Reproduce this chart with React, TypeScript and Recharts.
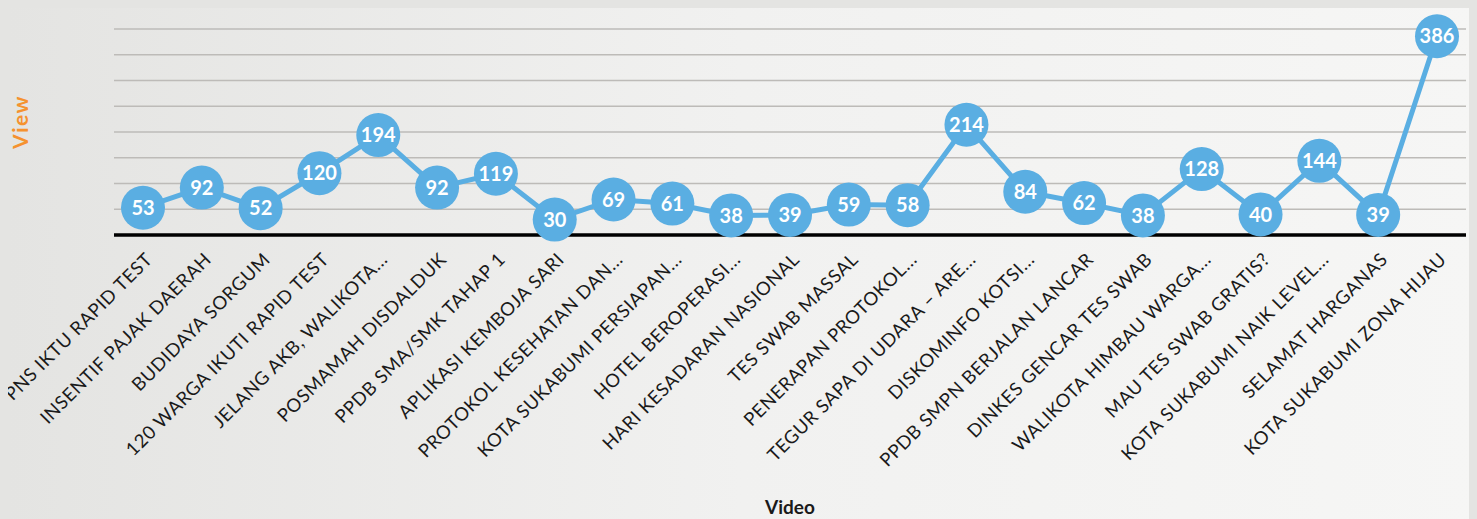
import { LineChart, Line, XAxis, YAxis, CartesianGrid, Label } from "recharts";

const videos = [
  "PNS IKTU RAPID TEST",
  "INSENTIF PAJAK DAERAH",
  "BUDIDAYA SORGUM",
  "120 WARGA IKUTI RAPID TEST",
  "JELANG AKB, WALIKOTA...",
  "POSMAMAH DISDALDUK",
  "PPDB SMA/SMK TAHAP 1",
  "APLIKASI KEMBOJA SARI",
  "PROTOKOL KESEHATAN DAN...",
  "KOTA SUKABUMI PERSIAPAN...",
  "HOTEL BEROPERASI...",
  "HARI KESADARAN NASIONAL",
  "TES SWAB MASSAL",
  "PENERAPAN PROTOKOL...",
  "TEGUR SAPA DI UDARA – ARE...",
  "DISKOMINFO KOTSI...",
  "PPDB SMPN BERJALAN LANCAR",
  "DINKES GENCAR TES SWAB",
  "WALIKOTA HIMBAU WARGA...",
  "MAU TES SWAB GRATIS?",
  "KOTA SUKABUMI NAIK LEVEL...",
  "SELAMAT HARGANAS",
  "KOTA SUKABUMI ZONA HIJAU",
];

const views = [53, 92, 52, 120, 194, 92, 119, 30, 69, 61, 38, 39, 59, 58, 214, 84, 62, 38, 128, 40, 144, 39, 386];

const yTicks = [0, 50, 100, 150, 200, 250, 300, 350, 400];

const data = videos.map((name, i) => ({ name, view: views[i] }));

const BLUE = "#5aaee2";
const FONT = "Lato, 'Open Sans', sans-serif";

function VideoTick({ x, y, payload }: any) {
  return (
    <g transform={`translate(${x + 6},${y + 13})`}>
      <text
        transform="rotate(-45)"
        textAnchor="end"
        dy="0.35em"
        fontSize={18.5}
        letterSpacing={0.6}
        fontFamily={FONT}
        fill="#1a1a1a"
      >
        {payload.value}
      </text>
    </g>
  );
}

// y ticks are only needed for the grid lines
function NoTick() {
  return <g />;
}

function ViewLabel({ viewBox }: any) {
  const cx = 13;
  const cy = viewBox.y + viewBox.height / 2 - 10;
  return (
    <text
      transform={`translate(${cx},${cy}) rotate(-90)`}
      textAnchor="middle"
      dy="0.35em"
      fontSize={21}
      letterSpacing={1.5}
      fontWeight="bold"
      fontFamily={FONT}
      fill="#f5922f"
    >
      View
    </text>
  );
}

function Bubble({ cx, cy, value, index }: any) {
  if (cx == null || cy == null) return null;
  return (
    <g key={`dot-${index}`}>
      <circle cx={cx} cy={cy} r={22} fill={BLUE} />
      <text
        x={cx}
        y={cy}
        dy="0.36em"
        textAnchor="middle"
        fontSize={20}
        fontWeight="bold"
        fontFamily={FONT}
        fill="#ffffff"
      >
        {value}
      </text>
    </g>
  );
}

export default function App() {
  return (
    <div
      style={{
        width: 1469,
        height: 511,
        background: "linear-gradient(90deg, #e4e4e2 0%, #f1f1f0 50%, #f6f6f5 100%)",
      }}
    >
      <style>{"body { background: #e4e4e2; } .recharts-surface { overflow: visible; }"}</style>
      <LineChart
        width={1469}
        height={511}
        data={data}
        margin={{ top: 21, right: 11, left: 0, bottom: 0 }}
      >
        <CartesianGrid vertical={false} stroke="#bdbbb8" strokeWidth={1.5} />
        <XAxis
          dataKey="name"
          interval={0}
          padding={{ left: 29, right: 29 }}
          height={284}
          axisLine={{ stroke: "#000000", strokeWidth: 3.5 }}
          tickLine={false}
          tick={<VideoTick />}
          label={{
            value: "Video",
            position: "insideBottom",
            offset: 5,
            fontSize: 19,
            fontWeight: "bold",
            fontFamily: FONT,
            fill: "#1a1a1a",
          }}
        />
        <YAxis
          width={106}
          domain={[0, 400]}
          ticks={yTicks}
          interval={0}
          tick={<NoTick />}
          axisLine={false}
          tickLine={false}
        >
          <Label content={<ViewLabel />} />
        </YAxis>
        <Line
          type="linear"
          dataKey="view"
          stroke={BLUE}
          strokeWidth={5}
          dot={<Bubble />}
          activeDot={false}
          isAnimationActive={false}
        />
      </LineChart>
    </div>
  );
}
